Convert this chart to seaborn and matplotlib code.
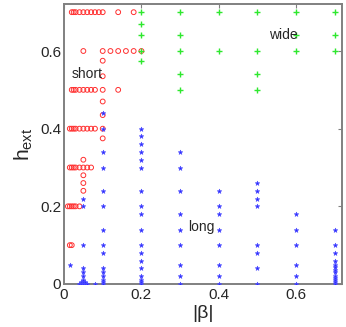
import pandas as pd
import seaborn as sns
import matplotlib.pyplot as plt

# short regime (red circles): rows of constant h_ext, then columns of constant |beta|
short_rows = {
    0.7: [0.02, 0.025, 0.03, 0.04, 0.05, 0.06, 0.07, 0.08, 0.09, 0.1, 0.14, 0.18],
    0.6: [0.05, 0.1, 0.12, 0.14, 0.16, 0.18, 0.2],
    0.5: [0.02, 0.025, 0.03, 0.04, 0.05, 0.06, 0.07, 0.08, 0.1, 0.14],
    0.4: [0.015, 0.02, 0.025, 0.03, 0.04, 0.05, 0.06, 0.07, 0.08, 0.1],
    0.3: [0.015, 0.02, 0.025, 0.03, 0.04, 0.05, 0.06, 0.07],
    0.2: [0.01, 0.015, 0.02, 0.025, 0.03, 0.04],
    0.1: [0.015, 0.02],
}
short_cols = {
    0.1: [0.575, 0.535, 0.47, 0.435, 0.375],
    0.05: [0.32, 0.28, 0.26, 0.24],
}

# long regime (blue stars): columns of constant |beta|
long_cols = {
    0.015: [0.05],
    0.04: [0.0],
    0.045: [0.0, 0.005],
    0.05: [0.0, 0.005, 0.01, 0.02, 0.03, 0.04, 0.1, 0.2, 0.22],
    0.055: [0.0, 0.005],
    0.06: [0.0],
    0.08: [0.0],
    0.1: [0.0, 0.005, 0.01, 0.02, 0.03, 0.04, 0.08, 0.1, 0.14, 0.2, 0.24, 0.3, 0.34, 0.4, 0.44],
    0.2: [0.0, 0.005, 0.01, 0.02, 0.04, 0.06, 0.08, 0.1, 0.14, 0.18, 0.2, 0.24, 0.3, 0.32, 0.34, 0.36, 0.38, 0.4],
    0.3: [0.0, 0.02, 0.05, 0.1, 0.14, 0.18, 0.24, 0.3, 0.34],
    0.4: [0.0, 0.02, 0.05, 0.1, 0.14, 0.18, 0.2, 0.24],
    0.5: [0.0, 0.04, 0.08, 0.1, 0.2, 0.22, 0.24, 0.26],
    0.6: [0.0, 0.02, 0.05, 0.1, 0.14, 0.18],
    0.7: [0.0, 0.005, 0.01, 0.015, 0.02, 0.03, 0.035, 0.045, 0.05, 0.06, 0.08, 0.1, 0.14],
}

# wide regime (green plus)
wide_cols = {
    0.2: [0.7, 0.67, 0.64, 0.6, 0.575],
    0.3: [0.7, 0.64, 0.6, 0.54, 0.5],
    0.4: [0.7, 0.6],
    0.5: [0.7, 0.6, 0.54, 0.5],
    0.6: [0.7, 0.64, 0.6],
    0.7: [0.7, 0.64, 0.6],
}

rows = []
for h, bs in short_rows.items():
    rows += [("short", b, h) for b in bs]
for b, hs in short_cols.items():
    rows += [("short", b, h) for h in hs]
for b, hs in long_cols.items():
    rows += [("long", b, h) for h in hs]
for b, hs in wide_cols.items():
    rows += [("wide", b, h) for h in hs]
df = pd.DataFrame(rows, columns=["regime", "beta", "h"])

sns.set_style("white")
plt.rcParams["font.family"] = ["Liberation Sans", "DejaVu Sans"]

fig = plt.figure(figsize=(3.46, 3.27), dpi=100)
ax = fig.add_axes([0.185, 0.1315, 0.803, 0.855])

d = df[df.regime == "short"]
sns.scatterplot(x=d.beta, y=d.h, ax=ax, marker="o", s=12, facecolors="none",
                edgecolor="#ff3030", linewidth=0.7, zorder=2)
d = df[df.regime == "wide"]
sns.scatterplot(x=d.beta, y=d.h, ax=ax, marker="+", s=16, color="#2ee82e",
                linewidth=1.0, zorder=2)
d = df[df.regime == "long"]
sns.scatterplot(x=d.beta, y=d.h, ax=ax, marker="*", s=11, color="#2a2aff",
                edgecolor="#4c4cff", linewidth=0.5, zorder=3)

ax.text(0.02, 0.542, "short", fontsize=10, va="center", ha="left")
ax.text(0.53, 0.642, "wide", fontsize=10, va="center", ha="left")
ax.text(0.32, 0.148, "long", fontsize=10, va="center", ha="left")

ax.set_xlim(0, 0.718)
ax.set_ylim(0, 0.72)
ax.set_xticks([0, 0.2, 0.4, 0.6])
ax.set_yticks([0, 0.2, 0.4, 0.6])
ax.set_xticklabels(["0", "0.2", "0.4", "0.6"])
ax.set_yticklabels(["0", "0.2", "0.4", "0.6"])
ax.tick_params(direction="in", length=3, width=0.8, color="#808080",
               labelsize=11, top=True, right=True, pad=2)
ax.tick_params(axis="x", pad=3)
for sp in ax.spines.values():
    sp.set_color("#808080")
    sp.set_linewidth(1.4)
ax.set_xlabel("|β|", fontsize=14, labelpad=2)
ax.set_ylabel("$\\mathregular{h_{ext}}$", fontsize=15, labelpad=4)

fig.savefig("out.png", dpi=100)
